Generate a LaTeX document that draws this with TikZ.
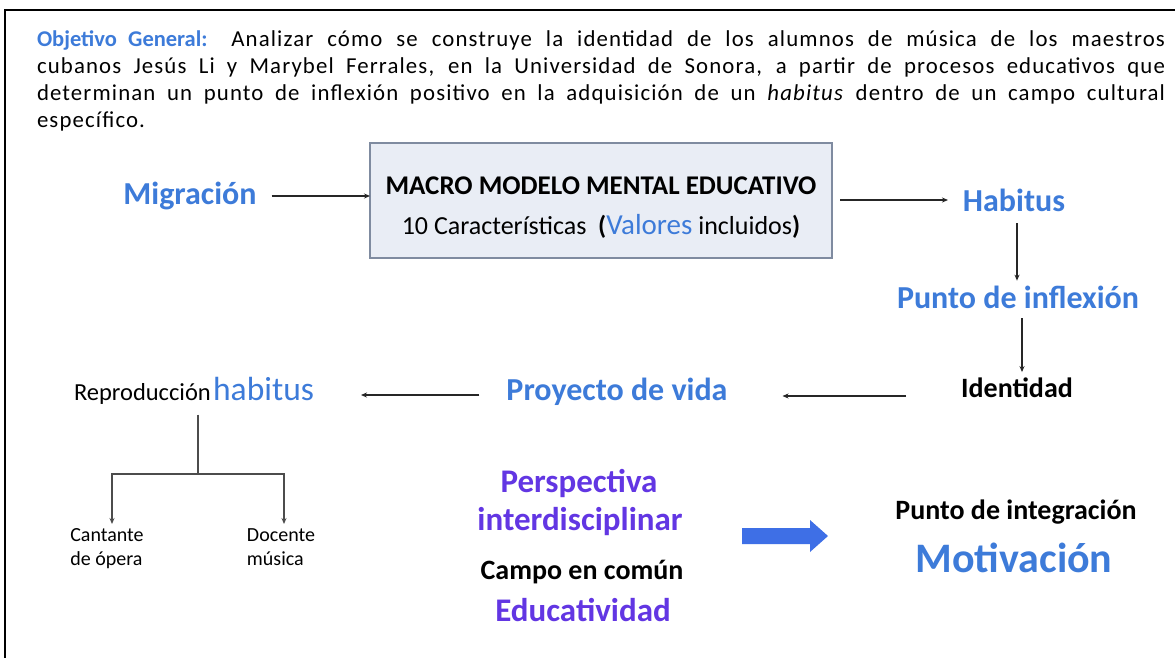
\documentclass[tikz,border=0pt]{standalone}
\usepackage{fontspec}
\setmainfont{Carlito}
\newfontfamily\bodyfont[LetterSpace=5.0]{Carlito}
\newfontfamily\plainfont{Carlito}
\usetikzlibrary{arrows.meta}
\definecolor{hblue}{HTML}{3D7BD9}
\definecolor{hpurple}{HTML}{6236E3}
\definecolor{boxfill}{HTML}{E9EDF5}
\definecolor{boxline}{HTML}{7F8BA0}
\definecolor{barrow}{HTML}{3E6FE6}
\begin{document}
\begin{tikzpicture}[x=1pt,y=-1pt,
  every node/.style={inner sep=0pt, outer sep=0pt},
  bluehead/.style={font=\fontsize{32}{36}\selectfont\bfseries, text=hblue},
  purphead/.style={font=\fontsize{33}{36}\selectfont\bfseries, text=hpurple},
  blackhead/.style={font=\fontsize{28}{32}\selectfont\bfseries, text=black},
  smalltext/.style={font=\fontsize{20}{24}\selectfont, align=left, anchor=north},
  conn/.style={draw=black!85, line width=1.1pt, -{Stealth[length=6pt,width=5pt]}},
  tline/.style={draw=black!70, line width=1.1pt},
  tconn/.style={draw=black!70, line width=1.1pt, -{Stealth[length=6pt,width=5pt]}}
]
\useasboundingbox (0,0) rectangle (1175,657);
\fill[white] (0,0) rectangle (1175,657);
\draw[line width=2.5pt] (1177,10) -- (5,10) -- (5,659);

% objective paragraph
\node[anchor=north west, text width=1128pt, align=justify,
      font=\bodyfont\fontsize{22.8}{27}\selectfont] (obj) at (37,31)
 {\textcolor{hblue}{\plainfont\fontsize{22.5}{27}\selectfont\bfseries Objetivo General:} Analizar cómo se construye la identidad de los alumnos de música de los maestros\linebreak
 cubanos Jesús Li y Marybel Ferrales, en la Universidad de Sonora, a partir de procesos educativos que\linebreak
 determinan un punto de inflexión positivo en la adquisición de un \textit{habitus} dentro de un campo cultural\linebreak
 específico.};

% central box
\node[draw=boxline, fill=boxfill, line width=1.2pt, minimum width=462pt, minimum height=115pt] (box) at (601,200.5) {};
\node[font=\fontsize{27}{30}\selectfont\bfseries] (macro) at (601,186) {MACRO MODELO MENTAL EDUCATIVO};
\node[font=\fontsize{26}{30}\selectfont] (car) at (601,226) {10 Características\ \ {\bfseries(}{\fontsize{29}{30}\selectfont\color{hblue}Valores} incluidos{\bfseries)}};

% flow nodes
\node[bluehead] (mig) at (190,196) {Migración};
\node[bluehead] (hab) at (1014,200) {Habitus};
\node[bluehead] (infl) at (1018,297) {Punto de inflexión};
\node[blackhead] (ident) at (1017,388) {Identidad};
\node[bluehead] (proy) at (617,392) {Proyecto de vida};
\node (repro) at (194,391) {{\fontsize{24.5}{28}\selectfont Reproducción} {\fontsize{33.5}{36}\selectfont\color{hblue}habitus}};
\node[smalltext] (cant) at (107,529) {Cantante\\de ópera};
\node[smalltext] (doc) at (281,529) {Docente\\música};

% bottom group
\node[purphead] (persp) at (579,483) {Perspectiva};
\node[purphead] (inter) at (580,522) {interdisciplinar};
\node[blackhead] (campo) at (582,572) {Campo en común};
\node[purphead] (educ) at (583,610) {Educatividad};
\node[blackhead] (integ) at (1016,512) {Punto de integración};
\node[font=\fontsize{42}{46}\selectfont\bfseries, text=hblue] (motiv) at (1014,558) {Motivación};

% connectors
\draw[conn, shorten <=15pt] (mig.east) -- (mig.east -| box.west);
\draw[conn, shorten <=8pt, shorten >=15pt] (box.east |- hab.west) -- (hab.west);
\draw[conn, shorten <=12pt, shorten >=5pt] (hab.south -| 1017,0) -- (infl.north -| 1017,0);
\draw[conn, shorten <=10pt, shorten >=6pt] (infl.south -| 1022,0) -- (ident.north -| 1022,0);
\draw[conn, shorten <=55pt, shorten >=55pt] ([yshift=-8pt]ident.west) -- ([yshift=-8pt]ident.west -| proy.east);
\draw[conn, shorten <=27pt, shorten >=47pt] ([yshift=-3pt]proy.west) -- ([yshift=-3pt]proy.west -| repro.east);

\coordinate (tj) at (198,474);
\draw[tline] (tj |- repro.south) ++(0,10) -- (tj);
\draw[tconn, shorten >=5pt] (tj) -| ([xshift=5pt]cant.north);
\draw[tconn, shorten >=5pt] (tj) -| ([xshift=3pt]doc.north);

% big blue arrow
\coordinate (ba) at (742,536);
\coordinate (bh) at (810,536);
\coordinate (bb) at (828,536);
\fill[barrow] ([yshift=8pt]ba) -- ([yshift=8pt]bh) -- ([yshift=16pt]bh) -- (bb)
  -- ([yshift=-16pt]bh) -- ([yshift=-8pt]bh) -- ([yshift=-8pt]ba) -- cycle;
\end{tikzpicture}
\end{document}
